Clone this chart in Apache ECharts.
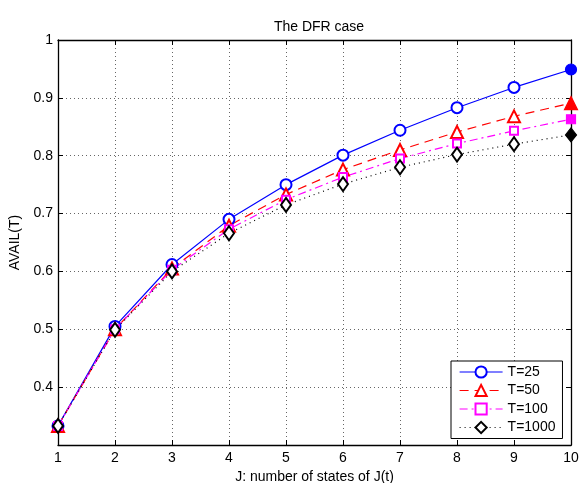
<!DOCTYPE html>
<html>
<head>
<meta charset="utf-8">
<script src="https://cdn.jsdelivr.net/npm/echarts@6/dist/echarts.min.js"></script>
<style>html,body{margin:0;padding:0;background:#fff}#c{width:581px;height:483px}</style>
</head>
<body>
<div id="c"></div>
<script>
const J = [1, 2, 3, 4, 5, 6, 7, 8, 9, 10];
const T25 = [0.333, 0.505, 0.612, 0.690, 0.750, 0.801, 0.844, 0.883, 0.918, 0.949];
const T50 = [0.333, 0.500, 0.605, 0.679, 0.733, 0.776, 0.810, 0.841, 0.868, 0.891];
const T100 = [0.333, 0.500, 0.603, 0.673, 0.724, 0.763, 0.795, 0.821, 0.843, 0.863];
const T1000 = [0.333, 0.499, 0.600, 0.666, 0.715, 0.751, 0.780, 0.802, 0.820, 0.836];
const names = ['T=25', 'T=50', 'T=100', 'T=1000'];
const yTicks = [0.4, 0.5, 0.6, 0.7, 0.8, 0.9, 1];

const FONT = 'Liberation Sans, Arial, sans-serif';
const chart = echarts.init(document.getElementById('c'));

function mk(name, vals, color, emptySym, fullSym, size, dash, fullSize) {
  return {
    name: name, type: 'line', clip: false, z: 3,
    symbol: emptySym, symbolSize: size,
    itemStyle: { color: color, borderColor: color, borderWidth: 1.2 },
    lineStyle: { color: color, width: 1.2, type: dash },
    data: J.map((x, i) => i === J.length - 1
      ? { value: [x, vals[i]], symbol: fullSym, symbolSize: fullSize }
      : [x, vals[i]])
  };
}

const gridLine = { show: true, lineStyle: { color: '#666', type: [1, 3], width: 1 } };
const axisBase = {
  axisLine: { show: true, lineStyle: { color: '#000', width: 1.3 } },
  axisTick: { show: true, inside: true, length: 5, lineStyle: { color: '#000' } },
};

chart.setOption({
  animation: false,
  backgroundColor: '#fff',
  title: {
    text: 'The DFR case', left: 314, top: 15, textAlign: 'center',
    textStyle: { fontFamily: FONT, fontSize: 14, fontWeight: 'normal', color: '#000' }
  },
  grid: { left: 58, right: 10, top: 40, bottom: 38, containLabel: false, outerBoundsMode: 'none' },
  legend: {
    orient: 'vertical', left: 451, top: 361,
    backgroundColor: '#fff', borderColor: '#000', borderWidth: 1,
    padding: [4, 7, 4, 8], itemGap: 4.5, itemWidth: 43, itemHeight: 14,
    lineStyle: { width: 1.2 },
    textStyle: { fontFamily: FONT, fontSize: 14, color: '#000' },
    data: names
  },
  xAxis: [
    Object.assign({
      type: 'value', min: 1, max: 10, interval: 1,
      name: 'J: number of states of J(t)', nameLocation: 'middle', nameGap: 23,
      nameTextStyle: { fontFamily: FONT, fontSize: 14, color: '#000' },
      axisLabel: { fontFamily: FONT, fontSize: 14, color: '#000', margin: 6 },
      splitLine: gridLine
    }, axisBase),
    Object.assign({
      type: 'value', min: 1, max: 10, interval: 1, position: 'top',
      axisLabel: { show: false }, splitLine: { show: false }
    }, axisBase)
  ],
  yAxis: [
    Object.assign({
      type: 'value', min: 0.3, max: 1, interval: 0.1,
      name: 'AVAIL(T)', nameLocation: 'middle', nameGap: 30,
      nameTextStyle: { fontFamily: FONT, fontSize: 14, color: '#000' },
      axisLabel: {
        fontFamily: FONT, fontSize: 14, color: '#000', margin: 5,
        formatter: function (v) {
          const r = Math.round(v * 10) / 10;
          return yTicks.indexOf(r) >= 0 ? String(r) : '';
        }
      },
      splitLine: gridLine
    }, axisBase),
    Object.assign({
      type: 'value', min: 0.3, max: 1, interval: 0.1, position: 'right',
      axisLabel: { show: false }, splitLine: { show: false }
    }, axisBase)
  ],
  series: [
    mk(names[0], T25, '#0000ff', 'emptyCircle', 'circle', 11, 'solid', 11),
    mk(names[1], T50, '#ff0000', 'emptyTriangle', 'triangle', 12, [9, 6], 13),
    mk(names[2], T100, '#ff00ff', 'emptyRect', 'rect', 8, [8, 4, 2, 4], 9),
    mk(names[3], T1000, '#000000', 'emptyDiamond', 'diamond', [10, 14], [1, 4], [11, 14])
  ]
});
</script>
</body>
</html>
